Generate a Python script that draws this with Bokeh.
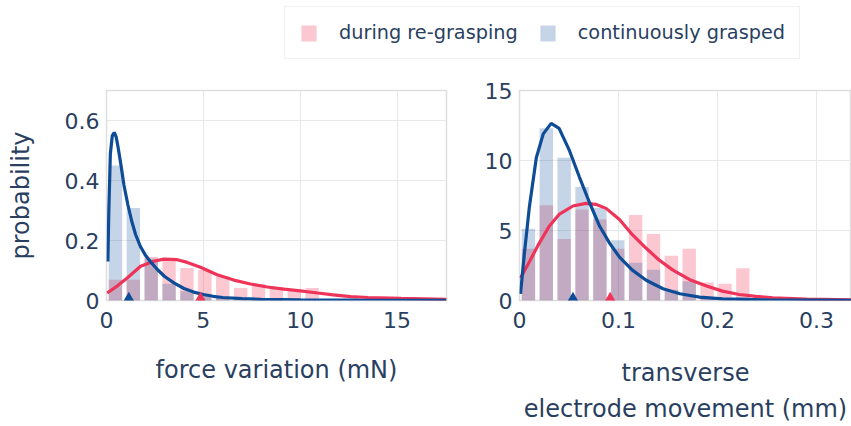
from bokeh.plotting import figure
from bokeh.layouts import column, row
from bokeh.models import Legend, LegendItem, Range1d, FixedTicker
from bokeh.embed import file_html
from bokeh.resources import INLINE

# ---------------- data ----------------
series_names = ["during re-grasping", "continuously grasped"]

# left panel: force variation (mN), histogram (probability density)
force_bin = 0.923
force_regrasp = [0.069, 0.069, 0.145, 0.133, 0.108, 0.102, 0.081, 0.042, 0.055, 0.040, 0.031, 0.042]
force_cont = [0.450, 0.308, 0.140, 0.056, 0.031, 0.022, 0.012, 0.006, 0.004, 0.002, 0.001, 0.001]

force_fit_x_cont = [0.07, 0.12, 0.2, 0.3, 0.4, 0.5, 0.6, 0.75, 0.9, 1.1, 1.3, 1.5, 1.75, 2.0, 2.3,
                    2.6, 3.0, 3.5, 4.0, 4.5, 5.0, 5.5, 6.0, 7.0, 8.0, 10.0, 13.0, 17.55]
force_fit_y_cont = [0.13, 0.30, 0.49, 0.55, 0.56, 0.545, 0.51, 0.45, 0.385, 0.32, 0.265, 0.22, 0.18,
                    0.152, 0.127, 0.105, 0.08, 0.058, 0.04, 0.028, 0.02, 0.014, 0.01, 0.006, 0.004,
                    0.002, 0.001, 0.0005]
force_fit_x_regr = [0.03, 0.55, 1.07, 1.76, 2.44, 2.96, 3.65, 4.17, 4.85, 5.71, 6.57, 7.43, 8.3,
                    9.16, 10.0, 10.9, 11.7, 12.6, 13.5, 15.2, 17.55]
force_fit_y_regr = [0.025, 0.048, 0.075, 0.114, 0.131, 0.138, 0.136, 0.127, 0.111, 0.086, 0.068,
                    0.055, 0.045, 0.038, 0.032, 0.025, 0.019, 0.013, 0.010, 0.007, 0.004]
force_medians = [4.85, 1.15]   # re-grasping, continuous

force_xticks = [0, 5, 10, 15]
force_xlabels = ["0", "5", "10", "15"]
force_yticks = [0, 0.2, 0.4, 0.6]
force_ylabels = ["0", "0.2", "0.4", "0.6"]

# right panel: transverse electrode movement (mm)
move_bin = 0.01805
move_regrasp = [3.69, 6.8, 4.4, 6.5, 5.8, 3.7, 6.1, 4.75, 3.2, 3.7, 1.28, 1.2, 2.3]
move_cont = [5.13, 12.3, 10.2, 8.1, 6.6, 4.3, 2.7, 2.2, 0.77, 1.37, 0.24, 0.1, 0.24]

move_fit_x_cont = [0.001, 0.005, 0.01, 0.017, 0.024, 0.032, 0.040, 0.0505, 0.0606, 0.0707, 0.081,
                   0.091, 0.101, 0.114, 0.128, 0.145, 0.162, 0.182, 0.205, 0.25, 0.336]
move_fit_y_cont = [0.48, 3.4, 6.7, 10.2, 11.9, 12.65, 12.3, 10.7, 8.8, 7.0, 5.3, 4.1, 3.1, 2.17,
                   1.45, 0.84, 0.48, 0.24, 0.12, 0.04, 0.01]
move_fit_x_regr = [0.001, 0.01, 0.02, 0.03, 0.04, 0.054, 0.067, 0.077, 0.0875, 0.101, 0.114, 0.128,
                   0.141, 0.155, 0.172, 0.189, 0.205, 0.222, 0.239, 0.256, 0.29, 0.336]
move_fit_y_regr = [1.6, 2.77, 4.1, 5.3, 6.15, 6.75, 6.94, 6.87, 6.58, 5.78, 4.7, 3.73, 2.89, 2.17,
                   1.49, 1.04, 0.67, 0.43, 0.29, 0.19, 0.1, 0.045]
move_medians = [0.0916, 0.054]

move_xticks = [0, 0.1, 0.2, 0.3]
move_xlabels = ["0", "0.1", "0.2", "0.3"]
move_yticks = [0, 5, 10, 15]
move_ylabels = ["0", "5", "10", "15"]

# ---------------- style ----------------
RED = "#ef3459"
BLUE = "#0d4c97"
TXT = "#2a3f5f"
GRID = "#e8e8e8"
FONT = "DejaVu Sans"
RED_A = 0.27
BLUE_A = 0.24
BAR_FRAC = 0.75


def style(p, xt, xl, yt, yl):
    p.xaxis.ticker = FixedTicker(ticks=xt)
    p.yaxis.ticker = FixedTicker(ticks=yt)
    p.xaxis.major_label_overrides = {float(t): l for t, l in zip(xt, xl)}
    p.yaxis.major_label_overrides = {float(t): l for t, l in zip(yt, yl)}
    for ax in (p.xaxis, p.yaxis):
        ax.axis_line_color = None
        ax.major_tick_line_color = None
        ax.minor_tick_line_color = None
        ax.major_tick_out = 0
        ax.major_tick_in = 0
        ax.minor_tick_out = 0
        ax.minor_tick_in = 0
        ax.major_label_text_font = FONT
        ax.major_label_text_font_size = "22px"
        ax.major_label_text_color = TXT
        ax.axis_label_text_font = FONT
        ax.axis_label_text_font_size = "24px"
        ax.axis_label_text_font_style = "normal"
        ax.axis_label_text_color = TXT
    p.xaxis.major_label_standoff = 11
    p.yaxis.major_label_standoff = 7
    p.xgrid.grid_line_color = GRID
    p.ygrid.grid_line_color = GRID
    p.outline_line_color = "#dedede"
    p.outline_line_width = 1.5
    p.background_fill_color = "white"
    p.border_fill_color = "white"


def panel(p, bw, regr, cont, fx_c, fy_c, fx_r, fy_r, med):
    centers = [(i + 0.5) * bw for i in range(len(regr))]
    p.vbar(x=centers, top=regr, width=bw * BAR_FRAC, fill_color=RED, fill_alpha=RED_A,
           line_color=None)
    p.vbar(x=centers, top=cont, width=bw * BAR_FRAC, fill_color=BLUE, fill_alpha=BLUE_A,
           line_color=None)
    p.line(fx_r, fy_r, line_color=RED, line_width=3.2)
    p.line(fx_c, fy_c, line_color=BLUE, line_width=3.2)
    # median markers sit on the x axis (lower part is clipped by the frame)
    p.scatter(x=med, y=[0] * len(med), marker="triangle", size=15,
              fill_color=[RED, BLUE], line_color=None)


# legend strip
leg = figure(width=851, height=74, output_backend="svg", toolbar_location=None,
             x_range=(0, 1), y_range=(0, 1), min_border_left=284, min_border_top=6,
             min_border_right=0, min_border_bottom=0)
leg.axis.visible = False
leg.grid.visible = False
leg.outline_line_color = None
# zero-size swatch renderers (only used for the legend entries)
r_a = leg.vbar(x=[0.5], top=[0.5], bottom=[0.5], width=0, fill_color=RED, fill_alpha=RED_A,
               line_color=None)
r_b = leg.vbar(x=[0.5], top=[0.5], bottom=[0.5], width=0, fill_color=BLUE, fill_alpha=BLUE_A,
               line_color=None)
legend = Legend(items=[LegendItem(label=series_names[0], renderers=[r_a]),
                       LegendItem(label=series_names[1], renderers=[r_b])],
                location="top_left", orientation="horizontal", padding=14, spacing=20,
                glyph_width=19, glyph_height=20, label_height=20, label_standoff=21, margin=0,
                label_text_font=FONT, label_text_font_size="19.3px", label_text_color=TXT,
                border_line_color="#e3e3e3", border_line_width=1.5)
leg.add_layout(legend)

p1 = figure(width=463, height=352, output_backend="svg", toolbar_location=None,
            x_range=Range1d(0, 17.55), y_range=Range1d(0, 0.7),
            min_border_left=106, min_border_right=17, min_border_top=16, min_border_bottom=126,
            x_axis_label="force variation (mN)", y_axis_label="probability")
style(p1, force_xticks, force_xlabels, force_yticks, force_ylabels)
p1.yaxis.axis_label_standoff = 27
p1.xaxis.axis_label_standoff = 25
panel(p1, force_bin, force_regrasp, force_cont, force_fit_x_cont, force_fit_y_cont,
      force_fit_x_regr, force_fit_y_regr, force_medians)

p2 = figure(width=388, height=352, output_backend="svg", toolbar_location=None,
            x_range=Range1d(0, 0.3354), y_range=Range1d(0, 15),
            min_border_left=56, min_border_right=0, min_border_top=16, min_border_bottom=126,
            x_axis_label="transverse\nelectrode movement (mm)")
style(p2, move_xticks, move_xlabels, move_yticks, move_ylabels)
p2.xaxis.axis_label_standoff = 28
p2.xaxis.axis_label_text_font_size = "24px"
p2.xaxis.axis_label_text_line_height = 1.3
panel(p2, move_bin, move_regrasp, move_cont, move_fit_x_cont, move_fit_y_cont,
      move_fit_x_regr, move_fit_y_regr, move_medians)

layout = column(leg, row(p1, p2))
open("out.html", "w").write(file_html(layout, INLINE))
